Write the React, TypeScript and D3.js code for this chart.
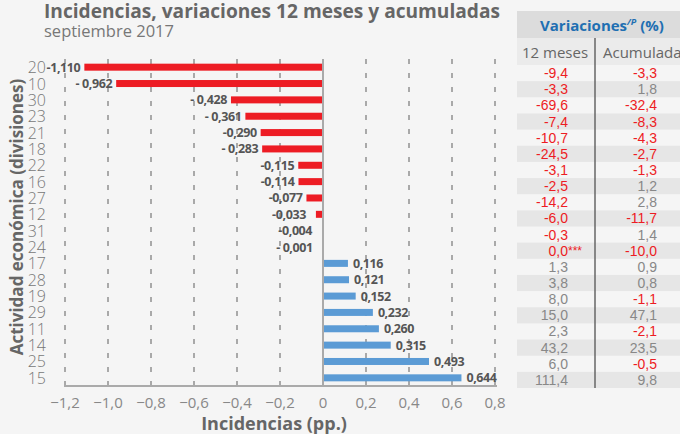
import React from 'react';
import * as d3 from 'd3';

const divisiones = ['20', '10', '30', '23', '21', '18', '22', '16', '27', '12', '31', '24', '17', '28', '19', '29', '11', '14', '25', '15'];
const incidencias = [-1.11, -0.962, -0.428, -0.361, -0.29, -0.283, -0.115, -0.114, -0.077, -0.033, -0.004, -0.001, 0.116, 0.121, 0.152, 0.232, 0.26, 0.315, 0.493, 0.644];
const etiquetas = ['-1,110', '- 0,962', '- 0,428', '- 0,361', '-0,290', '- 0,283', '-0,115', '-0,114', '-0,077', '-0,033', '-0,004', '- 0,001', '0,116', '0,121', '0,152', '0,232', '0,260', '0,315', '0,493', '0,644'];
const var12 = ['-9,4', '-3,3', '-69,6', '-7,4', '-10,7', '-24,5', '-3,1', '-2,5', '-14,2', '-6,0', '-0,3', '0,0***', '1,3', '3,8', '8,0', '15,0', '2,3', '43,2', '6,0', '111,4'];
const acumulada = ['-3,3', '1,8', '-32,4', '-8,3', '-4,3', '-2,7', '-1,3', '1,2', '2,8', '-11,7', '1,4', '-10,0', '0,9', '0,8', '-1,1', '47,1', '-2,1', '23,5', '-0,5', '9,8'];
const xTicks = [-1.2, -1.0, -0.8, -0.6, -0.4, -0.2, 0, 0.2, 0.4, 0.6, 0.8];

const W = 680;
const H = 434;
const RED = '#ed1c24';
const BLUE = '#5b9bd5';
const TXT = '#666';
const SANS = '"Open Sans", "Noto Sans", sans-serif';

export default function App() {
  const x = d3.scaleLinear().domain([-1.2, 0.8]).range([65, 495]);
  const y = d3.scalePoint<string>().domain(divisiones).range([59, 386]).padding(0.5);
  const row = d3.scaleBand<string>().domain(divisiones).range([65, 388]);
  const fmt = (v: number) => (v === 0 ? '0' : d3.format('.1f')(v).replace('.', ','));
  const isNeg = (s: string) => s.startsWith('-');

  return (
    <svg width={W} height={H} style={{ position: 'absolute', left: 0, top: 0, display: 'block' }} fontFamily={SANS}>
      <rect width={W} height={H} fill="#f5f5f5" />

      {/* titles */}
      <text x={44} y={18} fontSize={19} fontWeight={700} fill={TXT} textLength={456} lengthAdjust="spacingAndGlyphs">
        Incidencias, variaciones 12 meses y acumuladas
      </text>
      <text x={44} y={37} fontSize={16.5} fill="#777">septiembre 2017</text>

      {/* grid */}
      {xTicks.map((t) =>
        t === 0 ? null : (
          <line key={t} x1={x(t)} x2={x(t)} y1={59} y2={390} stroke="#777" strokeWidth={1.2} strokeDasharray="5,9" />
        ),
      )}

      {/* bars */}
      {divisiones.map((d, i) => {
        const v = incidencias[i];
        const x0 = x(Math.min(0, v));
        const x1 = x(Math.max(0, v));
        return <rect key={d} x={x0} y={(y(d) as number) - 3.5} width={x1 - x0} height={7} fill={v < 0 ? RED : BLUE} />;
      })}

      {/* axes */}
      <line x1={x(0)} x2={x(0)} y1={59} y2={386} stroke="#aaa" strokeWidth={2} />
      <line x1={64} x2={497} y1={386} y2={386} stroke="#aaa" strokeWidth={2} />

      {/* value labels */}
      {divisiones.map((d, i) => {
        const v = incidencias[i];
        const neg = v < 0;
        return (
          <text
            key={d}
            x={neg ? x(v) - 4 - (Math.abs(v) < 0.04 ? 6 : 0) : x(v) + 5}
            y={(y(d) as number) + 4.5}
            fontSize={12.5}
            fontWeight={700}
            fill="#555"
            textAnchor={neg ? 'end' : 'start'}
            letterSpacing={-0.4}
          >
            {etiquetas[i]}
          </text>
        );
      })}

      {/* category labels */}
      {divisiones.map((d) => (
        <text key={d} x={46} y={(y(d) as number) + 6} fontSize={16} fill="#777" textAnchor="end" fontWeight={300}>
          {d}
        </text>
      ))}

      {/* x tick labels */}
      {xTicks.map((t) => (
        <text key={t} x={x(t)} y={408} fontSize={15} fill="#888" textAnchor="middle">
          {fmt(t)}
        </text>
      ))}

      <text x={274} y={430} fontSize={18} fontWeight={700} fill={TXT} textAnchor="middle">
        Incidencias (pp.)
      </text>
      <text transform="translate(23,217) rotate(-90)" fontSize={17} fontWeight={700} fill={TXT} textAnchor="middle">
        Actividad económica (divisiones)
      </text>

      {/* table */}
      <rect x={517} y={11} width={163} height={27} fill="#dcdcdc" />
      <rect x={517} y={38} width={163} height={27} fill="#ebebeb" />
      <text x={602} y={31} fontSize={15} fontWeight={700} fill="#1f6fb2" textAnchor="middle">
        Variaciones
        <tspan fontSize={9} fontStyle="italic" dy={-6}>/P</tspan>
        <tspan dy={6}> (%)</tspan>
      </text>
      <text x={555} y={58} fontSize={15} fill={TXT} textAnchor="middle">12 meses</text>
      <text x={603} y={58} fontSize={15} fill={TXT}>Acumulada</text>
      {divisiones.map((d, i) =>
        i % 2 === 1 ? <rect key={d} x={517} y={row(d)} width={163} height={row.bandwidth()} fill="#e6e6e6" /> : null,
      )}
      <line x1={595} x2={595} y1={38} y2={388} stroke="#666" strokeWidth={1.5} />
      {divisiones.map((d, i) => {
        const cy = (row(d) as number) + row.bandwidth() / 2 + 5;
        const v = var12[i];
        const stars = v.endsWith('***');
        return (
          <g key={d} fontFamily='"Liberation Sans", Arial, sans-serif' fontSize={14}>
            <text x={568} y={cy} textAnchor="end" fill={incidencias[i] < 0 ? RED : '#888'}>
              {stars ? v.replace('***', '') : v}
            </text>
            {stars ? (
              <text x={568} y={cy - 1} fontSize={12} fill={RED}>***</text>
            ) : null}
            <text x={657} y={cy} textAnchor="end" fill={isNeg(acumulada[i]) ? RED : '#888'}>
              {acumulada[i]}
            </text>
          </g>
        );
      })}
    </svg>
  );
}
